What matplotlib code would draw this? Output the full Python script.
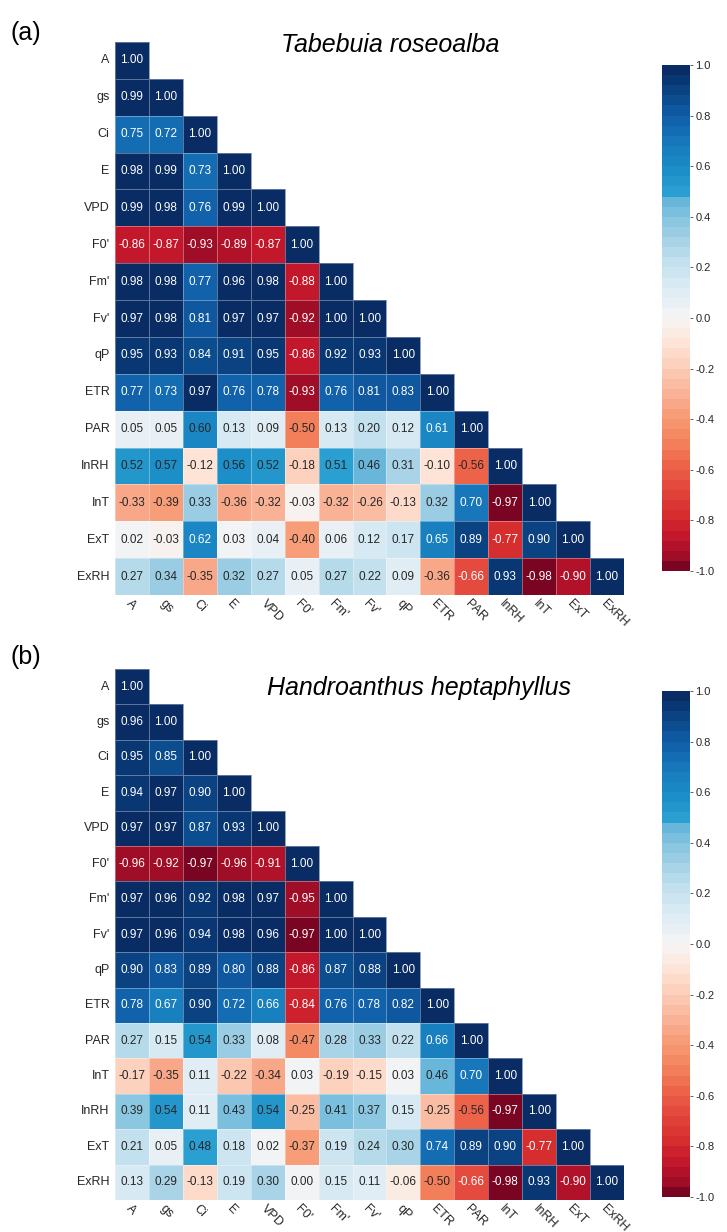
import numpy as np
import matplotlib
matplotlib.use('Agg')
import matplotlib.pyplot as plt
import seaborn as sns
from matplotlib.colors import LinearSegmentedColormap

plt.rcParams['font.family'] = ['Liberation Sans', 'DejaVu Sans']

# variable names (row / column order of each panel)
labels_a = ["A", "gs", "Ci", "E", "VPD", "F0'", "Fm'", "Fv'", "qP", "ETR",
            "PAR", "InRH", "InT", "ExT", "ExRH"]
labels_b = ["A", "gs", "Ci", "E", "VPD", "F0'", "Fm'", "Fv'", "qP", "ETR",
            "PAR", "InT", "InRH", "ExT", "ExRH"]

# lower triangle of the correlation matrix, (a) Tabebuia roseoalba
rows_a = [
    [1.00],
    [0.99, 1.00],
    [0.75, 0.72, 1.00],
    [0.98, 0.99, 0.73, 1.00],
    [0.99, 0.98, 0.76, 0.99, 1.00],
    [-0.86, -0.87, -0.93, -0.89, -0.87, 1.00],
    [0.98, 0.98, 0.77, 0.96, 0.98, -0.88, 1.00],
    [0.97, 0.98, 0.81, 0.97, 0.97, -0.92, 1.00, 1.00],
    [0.95, 0.93, 0.84, 0.91, 0.95, -0.86, 0.92, 0.93, 1.00],
    [0.77, 0.73, 0.97, 0.76, 0.78, -0.93, 0.76, 0.81, 0.83, 1.00],
    [0.05, 0.05, 0.60, 0.13, 0.09, -0.50, 0.13, 0.20, 0.12, 0.61, 1.00],
    [0.52, 0.57, -0.12, 0.56, 0.52, -0.18, 0.51, 0.46, 0.31, -0.10, -0.56, 1.00],
    [-0.33, -0.39, 0.33, -0.36, -0.32, -0.03, -0.32, -0.26, -0.13, 0.32, 0.70, -0.97, 1.00],
    [0.02, -0.03, 0.62, 0.03, 0.04, -0.40, 0.06, 0.12, 0.17, 0.65, 0.89, -0.77, 0.90, 1.00],
    [0.27, 0.34, -0.35, 0.32, 0.27, 0.05, 0.27, 0.22, 0.09, -0.36, -0.66, 0.93, -0.98, -0.90, 1.00],
]

# (b) Handroanthus heptaphyllus
rows_b = [
    [1.00],
    [0.96, 1.00],
    [0.95, 0.85, 1.00],
    [0.94, 0.97, 0.90, 1.00],
    [0.97, 0.97, 0.87, 0.93, 1.00],
    [-0.96, -0.92, -0.97, -0.96, -0.91, 1.00],
    [0.97, 0.96, 0.92, 0.98, 0.97, -0.95, 1.00],
    [0.97, 0.96, 0.94, 0.98, 0.96, -0.97, 1.00, 1.00],
    [0.90, 0.83, 0.89, 0.80, 0.88, -0.86, 0.87, 0.88, 1.00],
    [0.78, 0.67, 0.90, 0.72, 0.66, -0.84, 0.76, 0.78, 0.82, 1.00],
    [0.27, 0.15, 0.54, 0.33, 0.08, -0.47, 0.28, 0.33, 0.22, 0.66, 1.00],
    [-0.17, -0.35, 0.11, -0.22, -0.34, 0.03, -0.19, -0.15, 0.03, 0.46, 0.70, 1.00],
    [0.39, 0.54, 0.11, 0.43, 0.54, -0.25, 0.41, 0.37, 0.15, -0.25, -0.56, -0.97, 1.00],
    [0.21, 0.05, 0.48, 0.18, 0.02, -0.37, 0.19, 0.24, 0.30, 0.74, 0.89, 0.90, -0.77, 1.00],
    [0.13, 0.29, -0.13, 0.19, 0.30, 0.00, 0.15, 0.11, -0.06, -0.50, -0.66, -0.98, 0.93, -0.90, 1.00],
]

titles = ["Tabebuia roseoalba", "Handroanthus heptaphyllus"]
panel_tags = ["(a)", "(b)"]

# stepped red-white-blue palette, like the one in the paper
anchors = [
    (-1.0, "#7a0522"), (-0.96, "#a00d27"), (-0.88, "#c2162b"), (-0.8, "#d62c2f"),
    (-0.7, "#e1433a"), (-0.6, "#eb6048"), (-0.5, "#f3825c"), (-0.4, "#f79b75"),
    (-0.3, "#f9b498"), (-0.2, "#fccdb8"), (-0.1, "#fde4d7"), (0.0, "#f5f5f5"),
    (0.1, "#e1edf5"), (0.2, "#c9e3ef"), (0.3, "#abd5e8"), (0.4, "#86c5e0"),
    (0.49, "#5fb3d9"), (0.51, "#2a9fd1"), (0.6, "#1b8cc7"), (0.7, "#187bbd"),
    (0.8, "#1161aa"), (0.9, "#0b4789"), (1.0, "#082c63"),
]
cmap = LinearSegmentedColormap.from_list(
    "rdbu_steps", [((v + 1) / 2, c) for v, c in anchors], N=50)


def full_matrix(rows):
    n = len(rows)
    m = np.full((n, n), np.nan)
    for i, r in enumerate(rows):
        m[i, :len(r)] = r
    return m


W, H = 727, 1232
fig = plt.figure(figsize=(W / 100, H / 100), dpi=100)

# pixel boxes: heatmap (left, top, right, bottom), colorbar, title centre, tag
boxes = [
    dict(hm=(115, 42, 624, 595), cb=(662, 65, 690, 571), title=(390, 45), tag=(26, 33)),
    dict(hm=(115, 669, 624, 1200), cb=(662, 691, 690, 1197), title=(419, 688), tag=(26, 657)),
]

for rows, labels, title, tag, box in zip([rows_a, rows_b], [labels_a, labels_b],
                                         titles, panel_tags, boxes):
    l, t, r, b = box["hm"]
    ax = fig.add_axes([l / W, 1 - b / H, (r - l) / W, (b - t) / H])
    cl, ct, cr, cb = box["cb"]
    cax = fig.add_axes([cl / W, 1 - cb / H, (cr - cl) / W, (cb - ct) / H])

    data = full_matrix(rows)
    mask = np.isnan(data)
    sns.heatmap(data, mask=mask, cmap=cmap, vmin=-1, vmax=1, ax=ax, cbar_ax=cax,
                linewidths=0.4, linecolor=(1, 1, 1, 0.35),
                xticklabels=labels, yticklabels=labels, square=False)

    # annotations
    for i in range(len(rows)):
        for j, v in enumerate(rows[i]):
            col = "white" if (v > 0.605 or v < -0.6) else "#262626"
            ax.text(j + 0.5, i + 0.5, f"{v:.2f}", ha="center", va="center",
                    fontsize=8.5, color=col)

    ax.tick_params(axis="y", length=0, pad=4)
    ax.tick_params(axis="x", length=0, pad=2)
    ax.set_yticklabels(labels, rotation=0, fontsize=9, color="#262626")
    ax.set_xticklabels(labels, rotation=-45, ha="left", va="top",
                       rotation_mode="anchor", fontsize=9, color="#262626")

    cax.tick_params(labelsize=8, length=2, width=0.5, pad=2, colors="#262626")
    cax.set_yticks(np.linspace(-1, 1, 11))
    cax.set_yticklabels([f"{v:.1f}" for v in np.linspace(-1, 1, 11)])

    fig.text(box["title"][0] / W, 1 - box["title"][1] / H, title,
             style="italic", fontsize=18, ha="center", va="center")
    fig.text(box["tag"][0] / W, 1 - box["tag"][1] / H, tag,
             fontsize=18, ha="center", va="center")

fig.savefig("out.png", dpi=100)
plt.close(fig)
